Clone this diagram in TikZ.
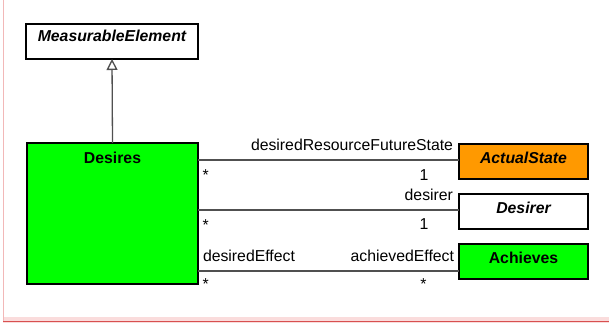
\documentclass[tikz,border=0pt]{standalone}
\usepackage{fontspec}
\setmainfont{Liberation Sans}
\usetikzlibrary{arrows.meta,calc}
\definecolor{umlgreen}{HTML}{00FF00}
\definecolor{umlorange}{HTML}{FF9900}
\definecolor{linegray}{HTML}{505050}
\definecolor{pinkline}{HTML}{F2B8B8}
\definecolor{pinkband}{HTML}{FADCDC}
\definecolor{redline}{HTML}{D85050}
\begin{document}
\begin{tikzpicture}[x=1pt,y=-1pt,
  every node/.style={inner sep=0pt, outer sep=0pt},
  cls/.style={draw=black, line width=1.5pt, minimum height=35pt, anchor=north west},
  clsname/.style={font=\fontsize{15.8}{18}\selectfont\bfseries, anchor=base},
  absname/.style={font=\fontsize{15.8}{18}\selectfont\bfseries\itshape, anchor=base},
  lbl/.style={font=\fontsize{15.8}{18}\selectfont},
  assoc/.style={draw=linegray, line width=1.3pt},
  gen/.style={draw=linegray, line width=1.3pt, -{Triangle[open,length=11pt,width=11pt]}}
]
\useasboundingbox (0,0) rectangle (609,323);
% page frame
\fill[pinkband] (3.3,317) rectangle (609,323);
\draw[redline, line width=1pt] (3.3,321.5) -- (609,321.5);
\draw[pinkline, line width=1pt] (3.3,0) -- (3.3,321);

% classes
\node[cls, fill=white, minimum width=172pt] (ME) at (26,24) {};
\node[absname] (MEt) at ($(ME.north)+(0,18)$) {MeasurableElement};
\node[cls, fill=umlgreen, minimum width=171pt, minimum height=141pt] (Desires) at (27,143) {};
\node[clsname] (Dest) at ($(Desires.north)+(0,20)$) {Desires};
\node[cls, fill=umlorange, minimum width=129pt] (AS) at (459,144) {};
\node[absname] (ASt) at ($(AS.north)+(0,19)$) {ActualState};
\node[cls, fill=white, minimum width=129pt] (Der) at (459,194) {};
\node[absname] (Dert) at ($(Der.north)+(0,19)$) {Desirer};
\node[cls, fill=umlgreen, minimum width=129pt] (Ach) at (459,244) {};
\node[clsname] (Acht) at ($(Ach.north)+(0,19)$) {Achieves};

% generalization
\draw[gen] (Desires.north) -- (ME.south);

% associations
\draw[assoc] (Desires.east |- 0,160) -- (AS.west |- 0,160);
\draw[assoc] (Desires.east |- 0,210) -- (Der.west |- 0,210);
\draw[assoc] (Desires.east |- 0,271) -- (Ach.west |- 0,271);

% association labels
\node[lbl, anchor=base east] (l1) at (453,150) {desiredResourceFutureState};
\node[lbl, anchor=base] (m1b) at (424,180) {1};
\node[lbl, anchor=base west] (m1a) at (202.5,180) {*};
\node[lbl, anchor=base east] (l2) at (453,200) {desirer};
\node[lbl, anchor=base] (m2b) at (424,229.5) {1};
\node[lbl, anchor=base west] (m2a) at (202.5,230) {*};
\node[lbl, anchor=base west] (l3a) at (203,261) {desiredEffect};
\node[lbl, anchor=base east] (l3b) at (454,261) {achievedEffect};
\node[lbl, anchor=base west] (m3a) at (202.5,289.5) {*};
\node[lbl, anchor=base] (m3b) at (423.5,289.5) {*};
\end{tikzpicture}
\end{document}
